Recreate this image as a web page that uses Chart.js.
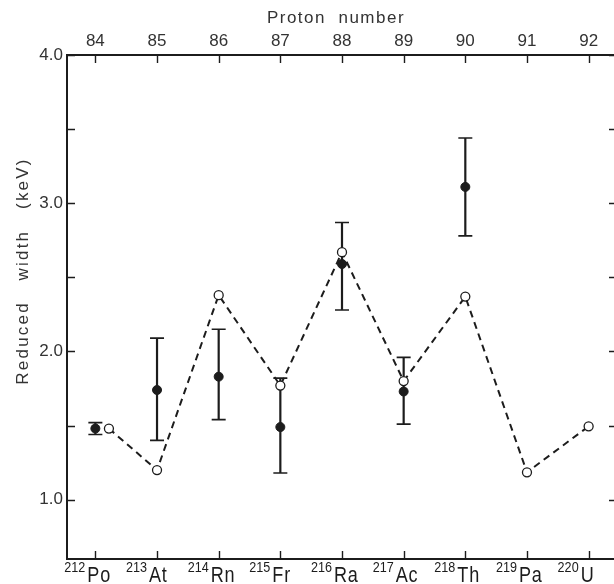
<!DOCTYPE html>
<html>
<head>
<meta charset="utf-8">
<script src="https://cdn.jsdelivr.net/npm/chart.js@4/dist/chart.umd.min.js"></script>
<style>
  html, body { margin: 0; padding: 0; background: #fff; overflow: hidden; width: 614px; height: 584px; }
  #wrap { width: 630px; height: 584px; position: relative; }
</style>
</head>
<body>
<div id="wrap"><canvas id="c" width="630" height="584"></canvas></div>
<script>
// Proton numbers along the top axis, nuclides along the bottom
const protonNumbers = [84, 85, 86, 87, 88, 89, 90, 91, 92];
const massNumbers = ['212', '213', '214', '215', '216', '217', '218', '219', '220'];
const elements = ['Po', 'At', 'Rn', 'Fr', 'Ra', 'Ac', 'Th', 'Pa', 'U'];

// Measured reduced widths (keV) with error limits
const expZ = [84, 85, 86, 87, 88, 89, 90];
const expWidth = [1.48, 1.74, 1.83, 1.49, 2.59, 1.73, 3.11];
const expLow = [1.44, 1.40, 1.54, 1.18, 2.28, 1.51, 2.78];
const expHigh = [1.52, 2.09, 2.15, 1.82, 2.87, 1.96, 3.44];

// Calculated reduced widths (keV), joined by the dashed line
const calcZ = [84.22, 85, 86, 87, 88, 89, 90, 91, 92];
const calcWidth = [1.48, 1.20, 2.38, 1.77, 2.67, 1.80, 2.37, 1.185, 1.495];

// Y axis ticks (labelled majors and unlabelled halves)
const yTicks = [1.0, 1.5, 2.0, 2.5, 3.0, 3.5, 4.0];
const yLabels = ['1.0', '', '2.0', '', '3.0', '', '4.0'];

const INK = '#1c1c1c';
const TEXT = '#333';
const FONT = "'Liberation Sans', Arial, sans-serif";
const X_MIN = 83.54, X_MAX = 92.46, Y_MIN = 0.6, Y_MAX = 4.0;

const errorBars = {
  id: 'errorBars',
  beforeDatasetsDraw(chart) {
    const { ctx, scales: { x, y } } = chart;
    ctx.save();
    ctx.strokeStyle = INK;
    expZ.forEach((z, i) => {
      const px = x.getPixelForValue(z);
      const yl = y.getPixelForValue(expLow[i]);
      const yh = y.getPixelForValue(expHigh[i]);
      ctx.lineWidth = 2.2;
      ctx.beginPath();
      ctx.moveTo(px, yl); ctx.lineTo(px, yh);
      ctx.stroke();
      ctx.lineWidth = 1.6;
      ctx.beginPath();
      ctx.moveTo(px - 7, yl); ctx.lineTo(px + 7, yl);
      ctx.moveTo(px - 7, yh); ctx.lineTo(px + 7, yh);
      ctx.stroke();
    });
    ctx.restore();
  }
};

const inwardTicks = {
  id: 'inwardTicks',
  afterDraw(chart) {
    const { ctx, chartArea: a, scales: { x, y } } = chart;
    ctx.save();
    ctx.strokeStyle = INK;
    ctx.lineWidth = 1.4;
    ctx.beginPath();
    protonNumbers.forEach(z => {
      const px = Math.round(x.getPixelForValue(z)) + 0.5;
      ctx.moveTo(px, a.bottom); ctx.lineTo(px, a.bottom - 8);
      ctx.moveTo(px, a.top); ctx.lineTo(px, a.top + 8);
    });
    yTicks.forEach(v => {
      const py = Math.round(y.getPixelForValue(v)) + 0.5;
      ctx.moveTo(a.left, py); ctx.lineTo(a.left + 8, py);
      ctx.moveTo(a.right, py); ctx.lineTo(a.right - 8, py);
    });
    ctx.stroke();
    ctx.restore();
  }
};

const axisText = {
  id: 'axisText',
  afterDraw(chart) {
    const { ctx, chartArea: a, scales: { x } } = chart;
    ctx.save();
    ctx.fillStyle = TEXT;

    // top title
    ctx.font = `17px ${FONT}`;
    ctx.letterSpacing = '1.5px';
    ctx.textAlign = 'center';
    ctx.textBaseline = 'middle';
    ctx.fillText('Proton  number', (a.left + a.right) / 2 - 6, 18);

    // left title
    ctx.save();
    ctx.translate(23, 271);
    ctx.rotate(-Math.PI / 2);
    ctx.letterSpacing = '2.2px';
    ctx.fillText('Reduced   width   (keV)', 0, 0);
    ctx.restore();

    // nuclide labels under the bottom axis
    ctx.fillStyle = INK;
    ctx.textBaseline = 'alphabetic';
    elements.forEach((el, i) => {
      const px = x.getPixelForValue(protonNumbers[i]);
      const left = px - 8;
      ctx.save();
      ctx.translate(left, 582);
      ctx.scale(0.82, 1);
      ctx.font = `22px ${FONT}`;
      ctx.letterSpacing = '1px';
      ctx.textAlign = 'left';
      ctx.fillText(el, 0, 0);
      ctx.restore();
      ctx.save();
      ctx.translate(left - 2, 572);
      ctx.scale(0.9, 1);
      ctx.font = `14px ${FONT}`;
      ctx.letterSpacing = '0px';
      ctx.textAlign = 'right';
      ctx.fillText(massNumbers[i], 0, 0);
      ctx.restore();
    });
    ctx.restore();
  }
};

const fixedTicks = values => scale => { scale.ticks = values.map(v => ({ value: v })); };
const border = { display: true, color: INK, width: 2 };

new Chart(document.getElementById('c'), {
  type: 'scatter',
  data: {
    datasets: [
      {
        label: 'Calculated',
        data: calcZ.map((z, i) => ({ x: z, y: calcWidth[i] })),
        showLine: true,
        borderColor: INK,
        borderWidth: 2,
        borderDash: [7, 5],
        pointRadius: 4.5,
        pointBackgroundColor: '#fff',
        pointBorderColor: INK,
        pointBorderWidth: 1.3,
        order: 1
      },
      {
        label: 'Measured',
        data: expZ.map((z, i) => ({ x: z, y: expWidth[i] })),
        showLine: false,
        pointRadius: 4.5,
        pointBackgroundColor: INK,
        pointBorderColor: INK,
        pointBorderWidth: 1,
        order: 2
      }
    ]
  },
  options: {
    responsive: false,
    animation: false,
    devicePixelRatio: 1,
    layout: { padding: 0 },
    plugins: { legend: { display: false }, tooltip: { enabled: false } },
    scales: {
      x: {
        type: 'linear', position: 'bottom', min: X_MIN, max: X_MAX,
        grid: { display: false, drawTicks: false }, border,
        ticks: { display: false },
        afterBuildTicks: fixedTicks(protonNumbers),
        afterFit: s => { s.height = 25; }
      },
      xTop: {
        type: 'linear', position: 'top', min: X_MIN, max: X_MAX,
        grid: { display: false, drawTicks: false }, border,
        ticks: { display: true, color: TEXT, padding: 3, font: { family: FONT, size: 17 }, callback: v => String(v) },
        afterBuildTicks: fixedTicks(protonNumbers),
        afterFit: s => { s.height = 55; }
      },
      y: {
        type: 'linear', position: 'left', min: Y_MIN, max: Y_MAX,
        grid: { display: false, drawTicks: false }, border,
        ticks: {
          color: TEXT, padding: 4, font: { family: FONT, size: 17 },
          callback: v => { const k = yTicks.indexOf(v); return k >= 0 ? yLabels[k] : ''; }
        },
        afterBuildTicks: fixedTicks(yTicks),
        afterFit: s => { s.width = 67; }
      },
      yRight: {
        type: 'linear', position: 'right', min: Y_MIN, max: Y_MAX,
        grid: { display: false, drawTicks: false }, border,
        ticks: { display: false },
        afterFit: s => { s.width = 13; }
      }
    }
  },
  plugins: [errorBars, inwardTicks, axisText]
});
</script>
</body>
</html>
